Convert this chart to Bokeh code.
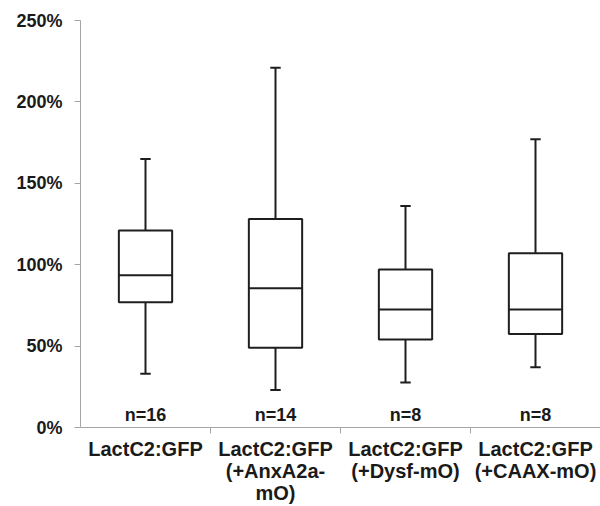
from bokeh.plotting import figure
from bokeh.models import FixedTicker, NumeralTickFormatter, Range1d, ColumnDataSource, LinearAxis
from bokeh.core.properties import value
from bokeh.embed import file_html
from bokeh.resources import INLINE

category_lines = [["LactC2:GFP"],
                  ["LactC2:GFP", "(+AnxA2a-", "mO)"],
                  ["LactC2:GFP", "(+Dysf-mO)"],
                  ["LactC2:GFP", "(+CAAX-mO)"]]
n_labels = ["n=16", "n=14", "n=8", "n=8"]
whisker_low = [0.33, 0.23, 0.276, 0.37]
q1 = [0.77, 0.49, 0.54, 0.575]
median = [0.935, 0.855, 0.725, 0.725]
q3 = [1.21, 1.28, 0.97, 1.07]
whisker_high = [1.65, 2.21, 1.36, 1.77]
y_ticks = [0, 0.5, 1.0, 1.5, 2.0, 2.5]

FONT = "Liberation Sans"
xs = [i + 0.5 for i in range(len(category_lines))]
bw = 0.41
cw = 0.08

src = ColumnDataSource(dict(
    x=xs, left=[x - bw / 2 for x in xs], right=[x + bw / 2 for x in xs],
    cl=[x - cw / 2 for x in xs], cr=[x + cw / 2 for x in xs],
    lo=whisker_low, q1=q1, med=median, q3=q3, hi=whisker_high, n=n_labels,
))

p = figure(width=600, height=506, output_backend="svg", toolbar_location=None,
           x_range=Range1d(0, 4), y_range=Range1d(0, 2.5),
           min_border_left=80, min_border_right=0, min_border_top=20, min_border_bottom=0)
p.outline_line_color = None
p.grid.grid_line_color = None
p.background_fill_color = "white"

LC = "#1e1e1e"
LW = 2
# whiskers
p.segment(x0="x", y0="q3", x1="x", y1="hi", source=src, line_color=LC, line_width=LW)
p.segment(x0="x", y0="lo", x1="x", y1="q1", source=src, line_color=LC, line_width=LW)
p.segment(x0="cl", y0="hi", x1="cr", y1="hi", source=src, line_color=LC, line_width=LW)
p.segment(x0="cl", y0="lo", x1="cr", y1="lo", source=src, line_color=LC, line_width=LW)
# boxes
p.quad(left="left", right="right", bottom="q1", top="q3", source=src,
       fill_color="white", line_color=LC, line_width=LW)
p.segment(x0="left", y0="med", x1="right", y1="med", source=src, line_color=LC, line_width=LW)

# n labels
p.text(x="x", y=0.074, text="n", source=src, text_align="center", text_baseline="middle",
       text_font=value(FONT), text_font_style="bold", text_font_size="18px", text_color="#1a1a1a")

AX = "#a6a6a6"
# y axis
ya = p.yaxis[0]
ya.ticker = FixedTicker(ticks=y_ticks, minor_ticks=[])
ya.formatter = NumeralTickFormatter(format="0%")
ya.axis_line_color = AX
ya.major_tick_line_color = AX
ya.major_tick_out = 6
ya.major_tick_in = 0
ya.minor_tick_line_color = None
ya.major_label_standoff = 12
ya.major_label_text_font = FONT
ya.major_label_text_font_style = "bold"
ya.major_label_text_font_size = "18px"
ya.major_label_text_color = "#1a1a1a"


def style_labels(ax):
    ax.major_label_text_font = FONT
    ax.major_label_text_font_style = "bold"
    ax.major_label_text_font_size = "20px"
    ax.major_label_text_color = "#1a1a1a"
    ax.major_tick_line_color = None
    ax.major_tick_out = 0
    ax.major_tick_in = 0


# main x axis: line, boundary ticks, and first label line
xa = p.xaxis[0]
xa.ticker = FixedTicker(ticks=xs, minor_ticks=[1, 2, 3])
xa.major_label_overrides = {x: lines[0] for x, lines in zip(xs, category_lines)}
xa.axis_line_color = AX
xa.minor_tick_line_color = AX
xa.minor_tick_out = 6
xa.minor_tick_in = 0
style_labels(xa)
xa.major_label_standoff = 4

# further label lines as extra label-only axes stacked below
for row in (1, 2):
    tx = [x for x, lines in zip(xs, category_lines) if len(lines) > row]
    ax = LinearAxis(ticker=FixedTicker(ticks=tx, minor_ticks=[]),
                    major_label_overrides={x: lines[row] for x, lines in zip(xs, category_lines) if len(lines) > row})
    ax.axis_line_color = None
    ax.minor_tick_line_color = None
    style_labels(ax)
    ax.major_label_standoff = -3
    p.add_layout(ax, "below")

open("out.html", "w").write(file_html(p, INLINE))
